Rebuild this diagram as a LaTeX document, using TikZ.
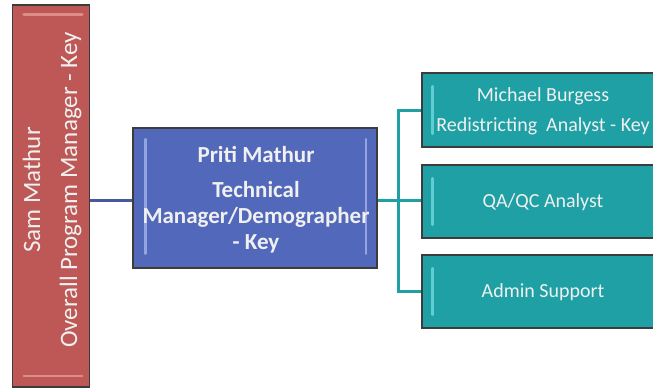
\documentclass[tikz,border=0pt]{standalone}
\usepackage{fontspec}
\setmainfont{Carlito}
\definecolor{redbox}{RGB}{190,88,86}
\definecolor{redhi}{RGB}{232,160,150}
\definecolor{bluebox}{RGB}{82,104,186}
\definecolor{bluehi}{RGB}{170,185,235}
\definecolor{tealbox}{RGB}{30,160,165}
\definecolor{tealhi}{RGB}{120,220,225}
\definecolor{edge}{RGB}{60,60,60}
\definecolor{txt}{RGB}{240,240,240}
\begin{document}
\begin{tikzpicture}[x=1pt,y=-1pt,
  box/.style={draw=edge,line width=1.6pt,rectangle,inner sep=0pt,text=txt,align=center},
  redstyle/.style={box,fill=redbox,minimum width=77pt,minimum height=382pt},
  bluestyle/.style={box,fill=bluebox,minimum width=244pt,minimum height=140pt},
  tealstyle/.style={box,fill=tealbox,minimum width=242pt,minimum height=73pt},
  hi/.style={line width=2.6pt,line cap=round,opacity=0.75},
  bluelink/.style={draw=bluebox!85!black,line width=3pt},
  teallink/.style={draw=tealbox,line width=3pt}]
\useasboundingbox (0,0) rectangle (653,391);
\clip (0,0) rectangle (653,391);
\node[redstyle] (sam) at (51,196) {};
\node[bluestyle] (priti) at (255,198) {};
\node[tealstyle,minimum height=74pt] (mb) at (543,110) {};
\node[tealstyle] (qa) at (543,201.5) {};
\node[tealstyle] (admin) at (543,291.5) {};
% connectors
\draw[bluelink] (sam.east |- 0,200) -- (priti.west |- 0,200);
\coordinate (trunk) at (398,200);
\draw[teallink] (priti.east |- trunk) -- (trunk);
\draw[teallink] (mb.west) -| (trunk) |- (admin.west);
\draw[teallink] (trunk) -- (qa.west |- trunk);
% highlights
\draw[hi,redhi] ([xshift=12pt,yshift=-10pt]sam.north west) -- ([xshift=-8pt,yshift=-10pt]sam.north east);
\draw[hi,redhi] ([xshift=12pt,yshift=12pt]sam.south west) -- ([xshift=-8pt,yshift=12pt]sam.south east);
\draw[hi,bluehi] ([xshift=13pt,yshift=-12pt]priti.north west) -- ([xshift=13pt,yshift=15pt]priti.south west);
\draw[hi,bluehi] ([xshift=-12pt,yshift=-12pt]priti.north east) -- ([xshift=-12pt,yshift=15pt]priti.south east);
\foreach \n in {mb,qa,admin}{
  \draw[hi,tealhi] ([xshift=11pt,yshift=-14pt]\n.north west) -- ([xshift=11pt,yshift=14pt]\n.south west);
  \draw[hi,tealhi] ([xshift=-11pt,yshift=-14pt]\n.north east) -- ([xshift=-11pt,yshift=14pt]\n.south east);
}
% texts
\node[text=txt,rotate=90,align=center,font=\fontsize{25}{37}\selectfont] (samtext) at (52,190) {Sam Mathur\\Overall Program Manager - Key};
\node[text=txt,align=center,font=\bfseries\fontsize{23}{26}\selectfont] (prititext) at (256,200) {Priti Mathur\\[9pt]Technical\\Manager/Demographer\\- Key};
\node[text=txt,align=center,font=\fontsize{20}{30}\selectfont] (mbtext) at (543,111) {Michael Burgess\\Redistricting\ \ Analyst - Key};
\node[text=txt,font=\fontsize{20}{30}\selectfont] (qatext) at (543,202) {QA/QC Analyst};
\node[text=txt,font=\fontsize{20}{30}\selectfont] (admintext) at (543,292) {Admin Support};
\end{tikzpicture}
\end{document}
